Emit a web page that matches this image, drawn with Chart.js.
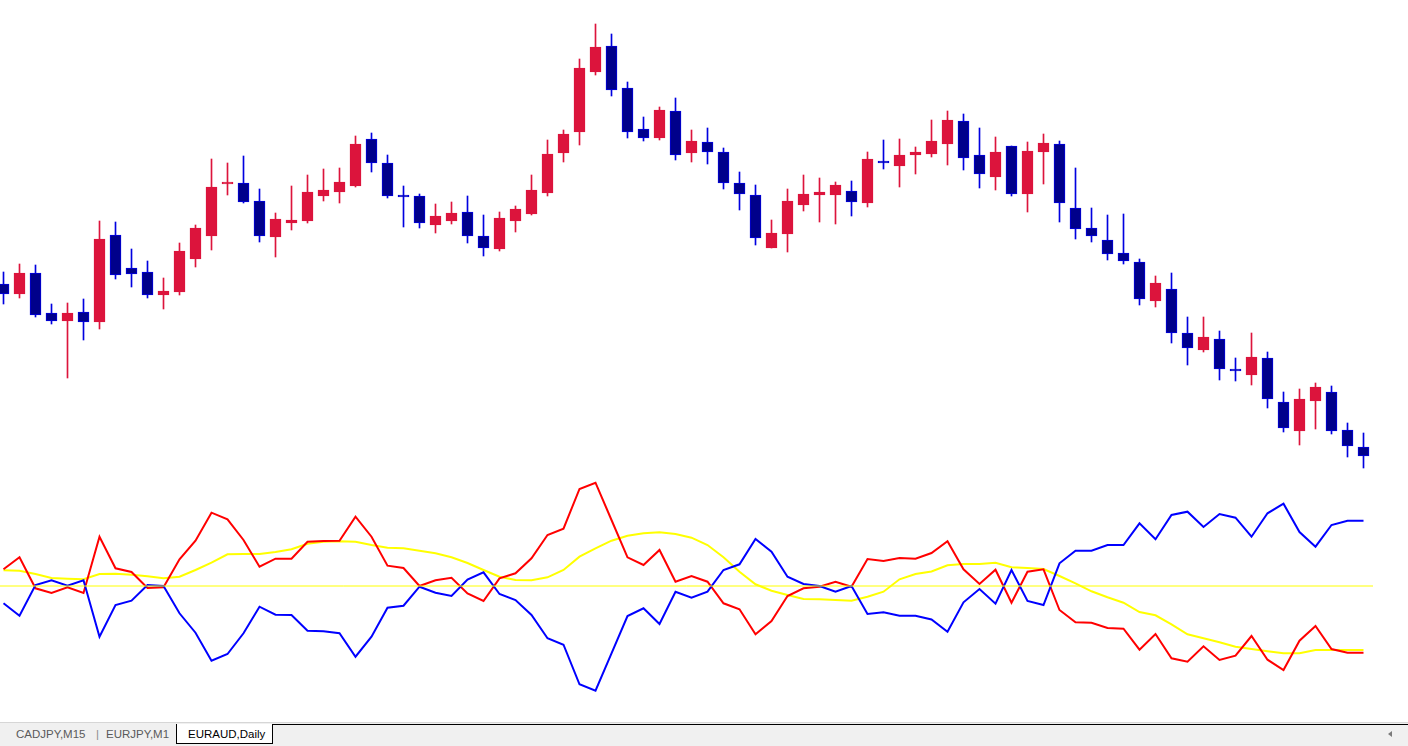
<!DOCTYPE html>
<html>
<head>
<meta charset="utf-8">
<script src="https://cdn.jsdelivr.net/npm/chart.js@4.4.1/dist/chart.umd.min.js"></script>
<style>
html,body{margin:0;padding:0;background:#fff;width:1408px;height:746px;overflow:hidden;font-family:"Liberation Sans",Arial,sans-serif}
#priceBox{position:absolute;left:0;top:0;width:1373px;height:470px}
#indBox{position:absolute;left:0;top:470px;width:1373px;height:250px}
#tabs{position:absolute;left:0;top:722px;width:1408px;height:24px;background:#f0f0f0}
#tabs .topline{position:absolute;left:0;top:0;width:1408px;height:1px;background:#d6d6d6}
#tabs .blackline{position:absolute;left:272px;top:2px;right:0;height:1px;background:#000}
#tabs .active{position:absolute;left:176px;top:2px;width:95px;height:19px;background:#fff;border-left:1px solid #000;border-right:1px solid #000;border-bottom:1px solid #000}
#tabs .t{position:absolute;top:6px;font-size:11.5px;line-height:13px;color:#5a5a5a;white-space:nowrap}
#tabs .arrow{position:absolute;left:1388px;top:9px;width:0;height:0;border-top:3px solid transparent;border-bottom:3px solid transparent;border-right:4px solid #7a7a7a}
</style>
</head>
<body>
<div id="priceBox"><canvas id="price" width="1373" height="470"></canvas></div>
<div id="indBox"><canvas id="ind" width="1373" height="250"></canvas></div>
<div id="tabs">
  <div class="topline"></div>
  <div class="blackline"></div>
  <div class="active"></div>
  <span class="t" style="left:16px">CADJPY,M15</span>
  <span class="t" style="left:96px;color:#8a8a8a">|</span>
  <span class="t" style="left:106px">EURJPY,M1</span>
  <span class="t" style="left:188px;color:#000">EURAUD,Daily</span>
  <div class="arrow"></div>
</div>
<script>
// ---- EURAUD Daily candles ----
const opens  = [1.6432,1.6412,1.6454,1.6374,1.6358,1.6376,1.6356,1.6530,1.6464,1.6456,
                1.6410,1.6416,1.6482,1.6528,1.6632,1.6634,1.6598,1.6526,1.6554,1.6558,
                1.6608,1.6616,1.6628,1.6722,1.6674,1.6610,1.6608,1.6550,1.6558,1.6576,
                1.6528,1.6502,1.6558,1.6572,1.6614,1.6694,1.6736,1.6856,1.6908,1.6824,
                1.6742,1.6724,1.6778,1.6694,1.6716,1.6696,1.6634,1.6610,1.6504,1.6532,
                1.6590,1.6610,1.6610,1.6618,1.6594,1.6678,1.6668,1.6690,1.6692,1.6712,
                1.6758,1.6690,1.6646,1.6708,1.6612,1.6696,1.6712,1.6584,1.6544,1.6520,
                1.6494,1.6476,1.6398,1.6422,1.6334,1.6300,1.6322,1.6262,1.6250,1.6284,
                1.6196,1.6138,1.6198,1.6216,1.6140,1.6106];
const highs  = [1.6456,1.6472,1.6470,1.6392,1.6394,1.6402,1.6558,1.6556,1.6502,1.6478,
                1.6444,1.6514,1.6550,1.6682,1.6674,1.6688,1.6622,1.6574,1.6628,1.6650,
                1.6662,1.6664,1.6728,1.6734,1.6690,1.6628,1.6612,1.6592,1.6596,1.6608,
                1.6570,1.6576,1.6588,1.6650,1.6720,1.6740,1.6882,1.6952,1.6932,1.6836,
                1.6766,1.6786,1.6804,1.6740,1.6744,1.6704,1.6656,1.6630,1.6560,1.6622,
                1.6650,1.6644,1.6636,1.6638,1.6696,1.6720,1.6722,1.6706,1.6760,1.6778,
                1.6772,1.6744,1.6726,1.6708,1.6716,1.6732,1.6718,1.6664,1.6584,1.6570,
                1.6572,1.6482,1.6448,1.6454,1.6366,1.6366,1.6338,1.6284,1.6334,1.6296,
                1.6216,1.6222,1.6234,1.6228,1.6154,1.6134];
const lows   = [1.6392,1.6404,1.6366,1.6352,1.6244,1.6320,1.6342,1.6442,1.6426,1.6404,
                1.6382,1.6410,1.6466,1.6500,1.6610,1.6594,1.6516,1.6486,1.6540,1.6554,
                1.6598,1.6594,1.6626,1.6656,1.6604,1.6546,1.6544,1.6534,1.6552,1.6514,
                1.6488,1.6498,1.6536,1.6570,1.6608,1.6676,1.6710,1.6850,1.6808,1.6724,
                1.6718,1.6720,1.6680,1.6676,1.6672,1.6622,1.6580,1.6510,1.6504,1.6496,
                1.6578,1.6556,1.6552,1.6568,1.6586,1.6662,1.6626,1.6652,1.6686,1.6670,
                1.6660,1.6624,1.6620,1.6608,1.6576,1.6632,1.6556,1.6522,1.6516,1.6480,
                1.6472,1.6390,1.6386,1.6314,1.6270,1.6296,1.6240,1.6238,1.6230,1.6184,
                1.6136,1.6110,1.6142,1.6132,1.6086,1.6064];
const closes = [1.6412,1.6454,1.6370,1.6358,1.6374,1.6356,1.6522,1.6450,1.6452,1.6410,
                1.6418,1.6498,1.6544,1.6626,1.6634,1.6596,1.6528,1.6562,1.6560,1.6616,
                1.6620,1.6636,1.6712,1.6674,1.6608,1.6606,1.6554,1.6568,1.6574,1.6528,
                1.6504,1.6564,1.6582,1.6620,1.6692,1.6732,1.6864,1.6906,1.6820,1.6736,
                1.6724,1.6780,1.6690,1.6718,1.6696,1.6634,1.6612,1.6524,1.6534,1.6598,
                1.6612,1.6616,1.6630,1.6596,1.6682,1.6674,1.6690,1.6696,1.6718,1.6760,
                1.6684,1.6652,1.6696,1.6612,1.6698,1.6714,1.6594,1.6542,1.6528,1.6492,
                1.6478,1.6402,1.6434,1.6334,1.6304,1.6326,1.6262,1.6258,1.6286,1.6202,
                1.6144,1.6202,1.6226,1.6138,1.6108,1.6088];

// ---- indicator (bull / bear power and signal) ----
const bullLine = [16.7,28.7,-2.3,-7,-1.3,-7,49.3,17.7,14,-2,
                  -1.3,26.7,45.3,73.3,66.7,46,19.3,27.3,27.3,44.3,
                  45,45.3,69.3,49.3,20.3,18,0,5.7,8.3,-7.5,
                  -15,7.7,12.7,27.7,51,57.3,97,103.3,66,28.7,
                  21,36,4.3,10,4.3,-17.3,-23.3,-48.3,-35,-10,
                  -2.3,-0.7,4.3,-0.7,27,25,28,27.3,33,44.7,
                  16.7,2,16.3,-16.7,14.3,16.7,-24,-36.3,-36.7,-42,
                  -42.7,-63.7,-48,-72.3,-75.7,-60.3,-74,-69.7,-50,-73.7,
                  -84,-54.7,-40,-63,-66.7,-66.7];
const bearLine = [-17.3,-29.7,1,5.7,0.3,5.7,-50.7,-19,-14.7,1,
                  0,-27.3,-46.7,-74.7,-68,-47.3,-20.7,-28.7,-29,-44.7,
                  -45.3,-47.3,-70.7,-50.7,-21.7,-19.7,-0.7,-6.7,-10,6.5,
                  13.7,-8,-14,-29,-52.3,-58.7,-98.3,-104.7,-67.3,-30,
                  -22.3,-38,-5.7,-11.7,-5.7,16,21.7,47,34.3,9.3,
                  2,0,-5.7,0,-28,-26.3,-29.7,-29.7,-33.5,-45.7,
                  -16.3,-3,-17.7,16,-15,-19,22.7,35.3,35.3,41,
                  41,62.7,46.7,71,74.3,59,72,68.3,49.3,72.7,
                  82.3,54,39.3,61,65.3,65.3];
const signalLine = [15.7,15.3,12,8,7.3,6.7,12,12.3,11.3,9.7,
                    7.7,9.3,16,23.3,31.7,32,32,34,36.7,42.3,
                    44.3,44.7,44.3,41,38.3,37.7,35.3,32.7,28.7,23,
                    16,9.3,6,5.7,8.7,16,29.3,37.7,45.3,50.3,
                    52.7,53.7,52,48.3,41,28.7,14.3,1.7,-4.7,-9,
                    -13,-13.3,-14,-14.7,-10.7,-5.7,6.7,12,14.5,20.7,
                    22,22,23.3,18.7,18,17,10,2.7,-5.3,-11.3,
                    -16.7,-26,-29.3,-38.3,-48.3,-52.3,-56.3,-60.7,-63,-65.3,
                    -67.3,-67.3,-64,-64,-64,-64];
const levels = [0];

// ---- scale ranges (value units) ----
const priceRange = [1.6060, 1.7000];
const indRange = [-134, 116];
const barRange = [-0.21875, 85.59375];

const UP_FILL = '#DC143C', UP_LINE = '#DC143C';
const DN_FILL = '#00008B', DN_LINE = '#0000E0';

const idx = opens.map((_, i) => i);
const up = i => closes[i] >= opens[i];

new Chart(document.getElementById('price'), {
  type: 'bar',
  data: {
    datasets: [
      {
        label: 'wick',
        data: idx.map(i => ({x: i, y: [lows[i], highs[i]]})),
        backgroundColor: idx.map(i => up(i) ? UP_LINE : DN_LINE),
        borderWidth: 0,
        barThickness: 1,
        grouped: false,
        order: 2
      },
      {
        label: 'body',
        data: idx.map(i => ({x: i, y: [opens[i], closes[i]]})),
        backgroundColor: idx.map(i => up(i) ? UP_FILL : DN_FILL),
        borderColor: idx.map(i => up(i) ? UP_LINE : DN_LINE),
        borderWidth: 1,
        borderSkipped: false,
        barThickness: 11,
        minBarLength: 2,
        grouped: false,
        order: 1
      }
    ]
  },
  options: {
    responsive: false,
    animation: false,
    events: [],
    layout: {padding: 0},
    plugins: {legend: {display: false}, tooltip: {enabled: false}},
    scales: {
      x: {type: 'linear', min: barRange[0], max: barRange[1], display: false, offset: false},
      y: {min: priceRange[0], max: priceRange[1], display: false}
    }
  }
});

const pts = arr => arr.map((v, i) => ({x: i, y: v}));
new Chart(document.getElementById('ind'), {
  type: 'line',
  data: {
    datasets: [
      {label: 'level', data: [{x: barRange[0], y: levels[0]}, {x: barRange[1], y: levels[0]}],
       borderColor: '#FFFF00', borderWidth: 1, pointRadius: 0},
      {label: 'bear', data: pts(bearLine), borderColor: '#0000FF', borderWidth: 2, pointRadius: 0, tension: 0},
      {label: 'bull', data: pts(bullLine), borderColor: '#FF0000', borderWidth: 2, pointRadius: 0, tension: 0},
      {label: 'signal', data: pts(signalLine), borderColor: '#FFFF00', borderWidth: 2, pointRadius: 0, tension: 0}
    ]
  },
  options: {
    responsive: false,
    animation: false,
    events: [],
    layout: {padding: 0},
    plugins: {legend: {display: false}, tooltip: {enabled: false}},
    scales: {
      x: {type: 'linear', min: barRange[0], max: barRange[1], display: false},
      y: {min: indRange[0], max: indRange[1], display: false}
    }
  }
});
</script>
</body>
</html>
